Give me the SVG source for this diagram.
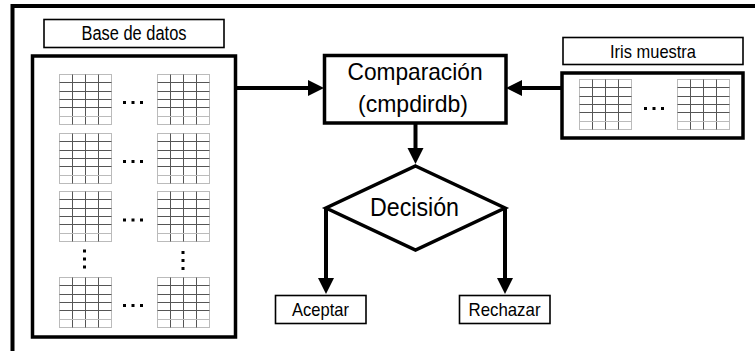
<svg xmlns="http://www.w3.org/2000/svg" xmlns:xlink="http://www.w3.org/1999/xlink" width="755" height="351" viewBox="0 0 755 351">
  <style>
    .thick { fill: #fff; stroke: #000; stroke-width: 3.5; }
    .thin { fill: #fff; stroke: #000; stroke-width: 1.6; }
    .conn { fill: none; stroke: #000; stroke-width: 4; }
    .lbl { font-family: "Liberation Sans", Arial, sans-serif; fill: #000; }
    .g-out { fill: #fff; stroke: #bbb; stroke-width: 1; }
    .g-in { stroke: #555; stroke-width: 1; }
    .g-lt { stroke: #bbb; stroke-width: 1; }
    .dot { fill: #000; }
  </style>
  <defs>
    <marker id="ah" markerUnits="userSpaceOnUse" markerWidth="18" markerHeight="18" refX="2" refY="8" orient="auto">
      <path d="M0,0 L16,8 L0,16 z" fill="#000"/>
    </marker>
    <g id="grid">
      <rect class="g-out" x="0" y="0" width="52" height="50"/>
      <path class="g-in" d="M13,0V50M26,0V50M39,0V50M0,8H52M0,17H52M0,25H52M0,33H52"/>
      <path class="g-lt" d="M0,42H52"/>
    </g>
    <g id="dots3">
      <rect class="dot" x="0" y="0" width="3" height="3"/>
      <rect class="dot" x="8.5" y="0" width="3" height="3"/>
      <rect class="dot" x="17" y="0" width="3" height="3"/>
    </g>
    <g id="vdots">
      <rect class="dot" x="0" y="0" width="3" height="3"/>
      <rect class="dot" x="0" y="8" width="3" height="3"/>
      <rect class="dot" x="0" y="16" width="3" height="3"/>
    </g>
  </defs>

  <rect x="0" y="0" width="755" height="351" fill="#fff"/>

  <!-- outer frame -->
  <g id="frame">
    <rect x="12.5" y="6" width="800" height="400" fill="none" stroke="#000" stroke-width="4"/>
  </g>

  <!-- Base de datos -->
  <g id="db-label">
    <rect class="thin" x="44" y="19.5" width="180" height="28"/>
    <text class="lbl" x="134" y="40" font-size="19.5" text-anchor="middle" textLength="105" lengthAdjust="spacingAndGlyphs">Base de datos</text>
  </g>
  <g id="db">
    <rect class="thick" x="32.5" y="56" width="203" height="281"/>
    <use xlink:href="#grid" x="59.5" y="74.5"/>
    <use xlink:href="#grid" x="157.5" y="74.5"/>
    <use xlink:href="#dots3" x="123" y="101"/>
    <use xlink:href="#grid" x="59.5" y="133.5"/>
    <use xlink:href="#grid" x="157.5" y="133.5"/>
    <use xlink:href="#dots3" x="123" y="160"/>
    <use xlink:href="#grid" x="59.5" y="191.5"/>
    <use xlink:href="#grid" x="157.5" y="191.5"/>
    <use xlink:href="#dots3" x="123" y="218.5"/>
    <use xlink:href="#vdots" x="83" y="249.5"/>
    <use xlink:href="#vdots" x="181.5" y="251"/>
    <use xlink:href="#grid" x="59.5" y="277.5"/>
    <use xlink:href="#grid" x="157.5" y="277.5"/>
    <use xlink:href="#dots3" x="123" y="304"/>
  </g>

  <!-- Iris muestra -->
  <g id="iris-label">
    <rect class="thin" x="563" y="37.5" width="180" height="27"/>
    <text class="lbl" x="653" y="57.5" font-size="18.5" text-anchor="middle" textLength="86" lengthAdjust="spacingAndGlyphs">Iris muestra</text>
  </g>
  <g id="iris">
    <rect class="thick" x="562" y="73" width="181" height="65"/>
    <use xlink:href="#grid" x="579.5" y="79.5"/>
    <use xlink:href="#grid" x="677.5" y="79.5"/>
    <use xlink:href="#dots3" x="644" y="107"/>
  </g>

  <!-- Comparación -->
  <g id="comparacion">
    <rect class="thick" x="324.5" y="55.5" width="181.5" height="67.5"/>
    <text class="lbl" x="415" y="80" font-size="24" text-anchor="middle" textLength="135" lengthAdjust="spacingAndGlyphs">Comparación</text>
    <text class="lbl" x="413" y="112" font-size="24" text-anchor="middle" textLength="110" lengthAdjust="spacingAndGlyphs">(cmpdirdb)</text>
  </g>

  <!-- Decisión -->
  <g id="decision">
    <polygon points="415.5,166 505,208 415.5,250 326,208" fill="#fff" stroke="#000" stroke-width="3.5" stroke-linejoin="miter"/>
    <text class="lbl" x="414.5" y="216" font-size="26" text-anchor="middle" textLength="89" lengthAdjust="spacingAndGlyphs">Decisión</text>
  </g>

  <!-- Aceptar / Rechazar -->
  <g id="aceptar">
    <rect class="thin" x="275.5" y="295.5" width="90.5" height="28"/>
    <text class="lbl" x="320.5" y="315.5" font-size="19" text-anchor="middle" textLength="57" lengthAdjust="spacingAndGlyphs">Aceptar</text>
  </g>
  <g id="rechazar">
    <rect class="thin" x="459.5" y="295.5" width="90.5" height="28"/>
    <text class="lbl" x="504.5" y="315.5" font-size="19" text-anchor="middle" textLength="72" lengthAdjust="spacingAndGlyphs">Rechazar</text>
  </g>

  <!-- connectors -->
  <g id="connectors">
    <path class="conn" d="M236,88 H310" marker-end="url(#ah)"/>
    <path class="conn" d="M561,88 H520" marker-end="url(#ah)"/>
    <path class="conn" d="M415.5,123 V150" marker-end="url(#ah)"/>
    <path class="conn" d="M326,207 V280" marker-end="url(#ah)"/>
    <path class="conn" d="M505,207 V280" marker-end="url(#ah)"/>
  </g>
</svg>
